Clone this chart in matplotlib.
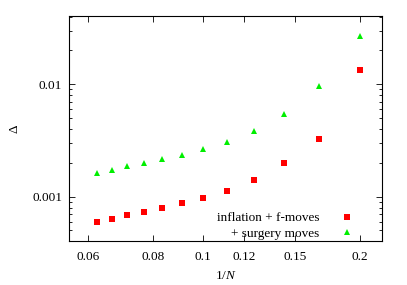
import matplotlib
matplotlib.use("Agg")
import matplotlib.pyplot as plt
from matplotlib.ticker import FixedLocator, NullFormatter, LogLocator, FixedFormatter

N = [16, 15, 14, 13, 12, 11, 10, 9, 8, 7, 6, 5]
x = [1.0 / n for n in N]
gap_inflation = [0.000596, 0.000638, 0.000683, 0.000736, 0.000799, 0.000873,
                 0.000967, 0.00112, 0.00140, 0.00198, 0.00326, 0.0134]
gap_surgery = [0.001625, 0.00174, 0.001863, 0.001994, 0.002164, 0.002365,
               0.00264, 0.003045, 0.00384, 0.00548, 0.00959, 0.0271]
xticks = [0.06, 0.08, 0.1, 0.12, 0.15, 0.2]
xticklabels = ["0.06", "0.08", "0.1", "0.12", "0.15", "0.2"]
yticks = [0.001, 0.01]
yticklabels = ["0.001", "0.01"]
labels = ["inflation + f-moves", "+ surgery moves"]

plt.rcParams['font.family'] = ['Liberation Serif', 'DejaVu Serif']
plt.rcParams['mathtext.fontset'] = 'custom'
plt.rcParams['mathtext.rm'] = 'Liberation Serif'
plt.rcParams['mathtext.it'] = 'Liberation Serif:italic'

fig = plt.figure(figsize=(4.07, 2.85), dpi=100)
ax = fig.add_axes([69/407, 1 - 241/285, (382-69)/407, (241-16)/285])

l1, = ax.plot(x, gap_inflation, linestyle='none', marker='s', markersize=4.2,
              color='#ff0000', markeredgewidth=0)
l2, = ax.plot(x, gap_surgery, linestyle='none', marker='^', markersize=4.0,
              color='#00ee00', markeredgewidth=0)

ax.set_xscale('log')
ax.set_yscale('log')
ax.set_xlim(0.0552, 0.2205)
ax.set_ylim(0.000403, 0.0405)

ax.xaxis.set_major_locator(FixedLocator(xticks))
ax.xaxis.set_major_formatter(FixedFormatter(xticklabels))
ax.xaxis.set_minor_locator(FixedLocator([]))
ax.xaxis.set_minor_formatter(NullFormatter())
ax.yaxis.set_major_locator(FixedLocator(yticks))
ax.yaxis.set_major_formatter(FixedFormatter(yticklabels))
ax.yaxis.set_minor_locator(LogLocator(base=10, subs=range(2, 10)))
ax.yaxis.set_minor_formatter(NullFormatter())

ax.tick_params(which='both', direction='in', top=True, right=True,
               labelsize=9.5, colors='#000000')
ax.tick_params(which='major', length=4, width=0.6, pad=7)
ax.tick_params(which='minor', length=2, width=0.6)
ax.tick_params(axis='y', which='major', pad=5)
for s in ax.spines.values():
    s.set_linewidth(0.8)

ax.set_xlabel(r'1/$\mathit{N}$', fontsize=9.5, labelpad=5)
ax.set_ylabel(r'$\Delta$', fontsize=9.5, labelpad=8)

leg = ax.legend([l1, l2], labels, loc='lower right', frameon=False,
                fontsize=9.5, markerfirst=False, handlelength=1.0,
                handletextpad=1.6, labelspacing=0.25,
                bbox_to_anchor=(0.934, -0.03), borderaxespad=0.2)
for t in leg.get_texts():
    t.set_ha('right')

fig.savefig('out.png', dpi=100)
